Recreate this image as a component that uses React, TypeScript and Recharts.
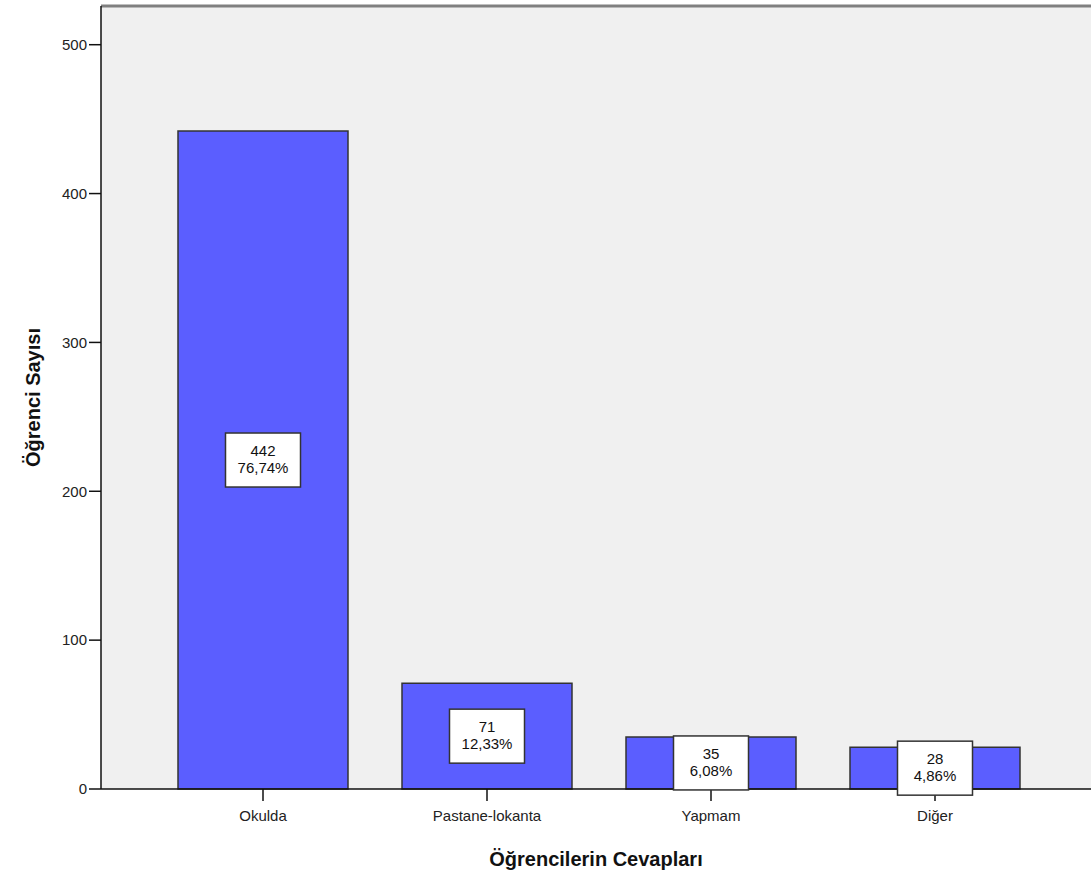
import React from 'react';
import { BarChart, Bar, XAxis, YAxis, CartesianGrid, LabelList, Label, ReferenceLine } from 'recharts';

const categories = ['Okulda', 'Pastane-lokanta', 'Yapmam', 'Diğer'];
const counts = [442, 71, 35, 28];
const percents = ['76,74%', '12,33%', '6,08%', '4,86%'];
const yTicks = [0, 100, 200, 300, 400, 500];

const data = categories.map((name, i) => ({ name, count: counts[i], pct: percents[i] }));

const font = '"Liberation Sans", Arial, sans-serif';

const BoxLabel = (props: any) => {
  const { x, y, width, height, index } = props;
  const cx = x + width / 2;
  const cy = y + height / 2;
  const w = 75;
  const h = 54;
  return (
    <g>
      <rect x={cx - w / 2} y={cy - h / 2} width={w} height={h} fill="#ffffff" stroke="#333333" strokeWidth={1.5} />
      <text x={cx} y={cy - 4} textAnchor="middle" fontFamily={font} fontSize={15} fill="#111">
        {counts[index]}
      </text>
      <text x={cx} y={cy + 13} textAnchor="middle" fontFamily={font} fontSize={15} fill="#111">
        {percents[index]}
      </text>
    </g>
  );
};

const App = () => {
  return (
    <div style={{ position: 'absolute', left: 0, top: 0, background: '#fff' }}>
      <BarChart width={1091} height={880} data={data} margin={{ top: 6, right: 0, left: 0, bottom: 0 }}>
        <CartesianGrid fill="#f0f0f0" horizontal={false} vertical={false} />
        <ReferenceLine y={526} stroke="#808080" strokeWidth={3} ifOverflow="visible" />
        <XAxis
          dataKey="name"
          height={91}
          padding={{ left: 50, right: 44 }}
          axisLine={{ stroke: '#111', strokeWidth: 1.5 }}
          tickLine={{ stroke: '#111', strokeWidth: 1.5 }}
          tickSize={12}
          tickMargin={9}
          tick={{ fontFamily: font, fontSize: 15, fill: '#222' }}
        >
          <Label
            value="Öğrencilerin Cevapları"
            position="insideBottom"
            offset={14}
            style={{ fontFamily: font, fontSize: 20, fontWeight: 'bold', fill: '#111' }}
          />
        </XAxis>
        <YAxis
          width={101}
          domain={[0, 526]}
          ticks={yTicks}
          axisLine={{ stroke: '#111', strokeWidth: 1.5 }}
          tickLine={{ stroke: '#111', strokeWidth: 1.5 }}
          tickSize={12}
          tick={{ fontFamily: font, fontSize: 15, fill: '#222' }}
        >
          <Label
            value="Öğrenci Sayısı"
            angle={-90}
            position="insideLeft"
            offset={33}
            style={{ fontFamily: font, fontSize: 20, fontWeight: 'bold', fill: '#111', textAnchor: 'middle' }}
          />
        </YAxis>
        <Bar dataKey="count" barSize={170} fill="#5b5eff" stroke="#333" strokeWidth={1.5} isAnimationActive={false}>
          <LabelList dataKey="count" content={<BoxLabel />} />
        </Bar>
      </BarChart>
    </div>
  );
};

export default App;
